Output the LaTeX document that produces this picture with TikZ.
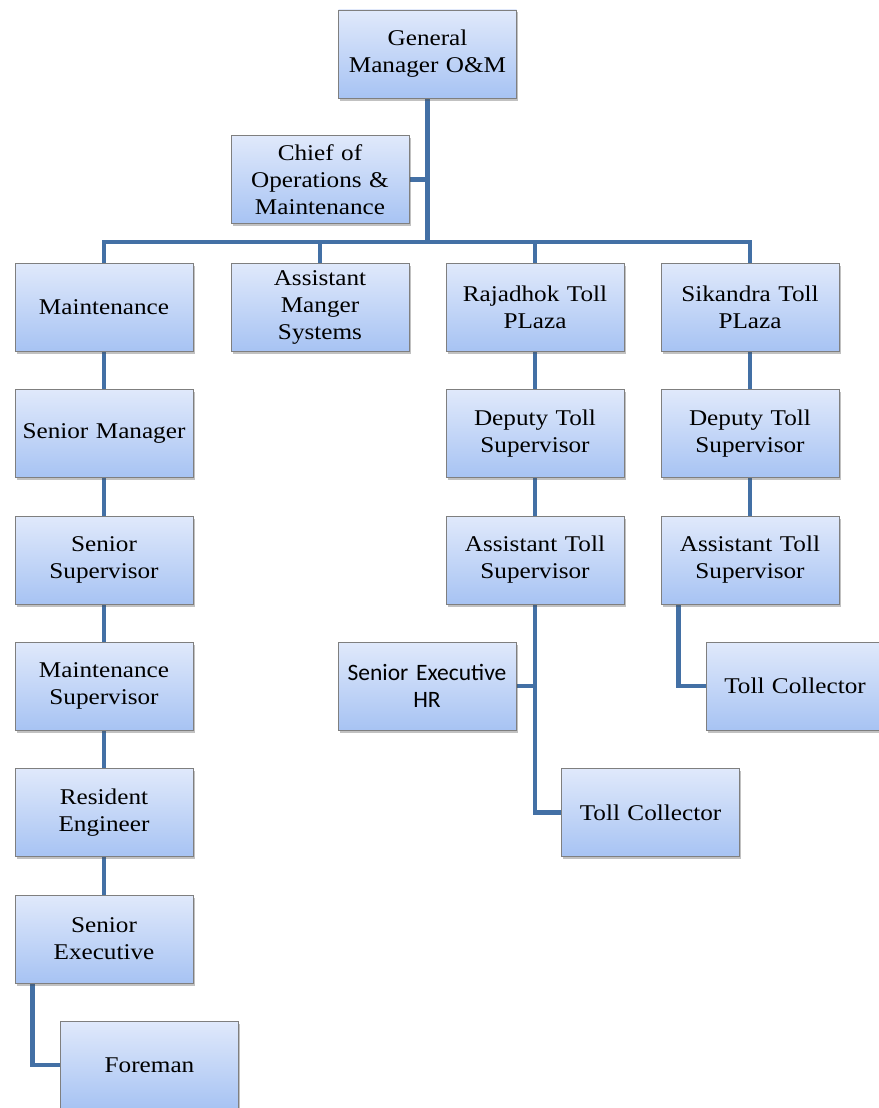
\documentclass[tikz,border=0pt]{standalone}
\usepackage{fontspec}
\setmainfont[FakeStretch=1.12]{Liberation Serif}
\newfontfamily\calfont{Carlito}
\usetikzlibrary{shadows,backgrounds}
\definecolor{boxtop}{HTML}{E0E9FB}
\definecolor{boxbot}{HTML}{A7C3F3}
\definecolor{linecol}{HTML}{4370A5}
\definecolor{boxborder}{HTML}{7F7F7F}
\begin{document}
\begin{tikzpicture}[x=1pt,y=-1pt,
  box/.style={draw=boxborder, line width=0.8pt, top color=boxtop, bottom color=boxbot,
    minimum width=178pt, minimum height=88pt, text width=176pt, align=center, inner sep=0pt,
    font=\fontsize{22.5}{27}\selectfont,
    drop shadow={shadow xshift=1.5pt, shadow yshift=-2.5pt, opacity=0.35, fill=black!70}},
  sbox/.style={box, font=\calfont\fontsize{23.5}{27}\selectfont},
  conn/.style={draw=linecol, line width=4.5pt, line join=miter}]
\useasboundingbox (0,0) rectangle (878,1108);
% top
\node[box] (gm) at (427.5,54) {General\\Manager O\&M};
\node[box] (chief) at (320,179.5) {Chief of\\Operations \&\\Maintenance};
% row 1
\node[box] (maint) at (104,307) {Maintenance};
\node[box] (asm) at (320,307) {Assistant\\Manger\\Systems};
\node[box] (raj) at (535,307) {Rajadhok Toll\\PLaza};
\node[box] (sik) at (750,307) {Sikandra Toll\\PLaza};
% maintenance chain
\node[box] (sm) at (104,433.5) {Senior Manager};
\node[box] (ss) at (104,560) {Senior\\Supervisor};
\node[box] (ms) at (104,686) {Maintenance\\Supervisor};
\node[box] (re) at (104,812.5) {Resident\\Engineer};
\node[box] (se) at (104,939) {Senior\\Executive};
\node[box] (fm) at (149.5,1065) {Foreman};
% Rajadhok chain
\node[box] (dts1) at (535,433.5) {Deputy Toll\\Supervisor};
\node[box] (ats1) at (535,560) {Assistant Toll\\Supervisor};
\node[sbox] (hr) at (427,686) {Senior Executive\\HR};
\node[box] (tc1) at (650.5,812.5) {Toll Collector};
% Sikandra chain
\node[box] (dts2) at (750,433.5) {Deputy Toll\\Supervisor};
\node[box] (ats2) at (750,560) {Assistant Toll\\Supervisor};
\node[box] (tc2) at (795,686) {Toll Collector};
% connectors
\begin{scope}[on background layer]
\coordinate (bus) at (427,242);
\draw[conn] (gm.south) -- (gm.south |- bus);
\draw[conn] (maint.north) -- (maint.north |- bus) -- (sik.north |- bus) -- (sik.north);
\draw[conn] (asm.north) -- (asm.north |- bus);
\draw[conn] (raj.north) -- (raj.north |- bus);
\draw[conn] (chief.east) -- (chief.east -| gm.south);
\draw[conn] (maint.south) -- (sm.north);
\draw[conn] (sm.south) -- (ss.north);
\draw[conn] (ss.south) -- (ms.north);
\draw[conn] (ms.south) -- (re.north);
\draw[conn] (re.south) -- (se.north);
\draw[conn] (se.south west) ++(18,0) |- (fm.west);
\draw[conn] (raj.south) -- (dts1.north);
\draw[conn] (dts1.south) -- (ats1.north);
\draw[conn] (ats1.south) |- (tc1.west);
\draw[conn] (hr.east) -- (hr.east -| ats1.south);
\draw[conn] (sik.south) -- (dts2.north);
\draw[conn] (dts2.south) -- (ats2.north);
\draw[conn] (ats2.south west) ++(18,0) |- (tc2.west);
\end{scope}
\end{tikzpicture}
\end{document}
